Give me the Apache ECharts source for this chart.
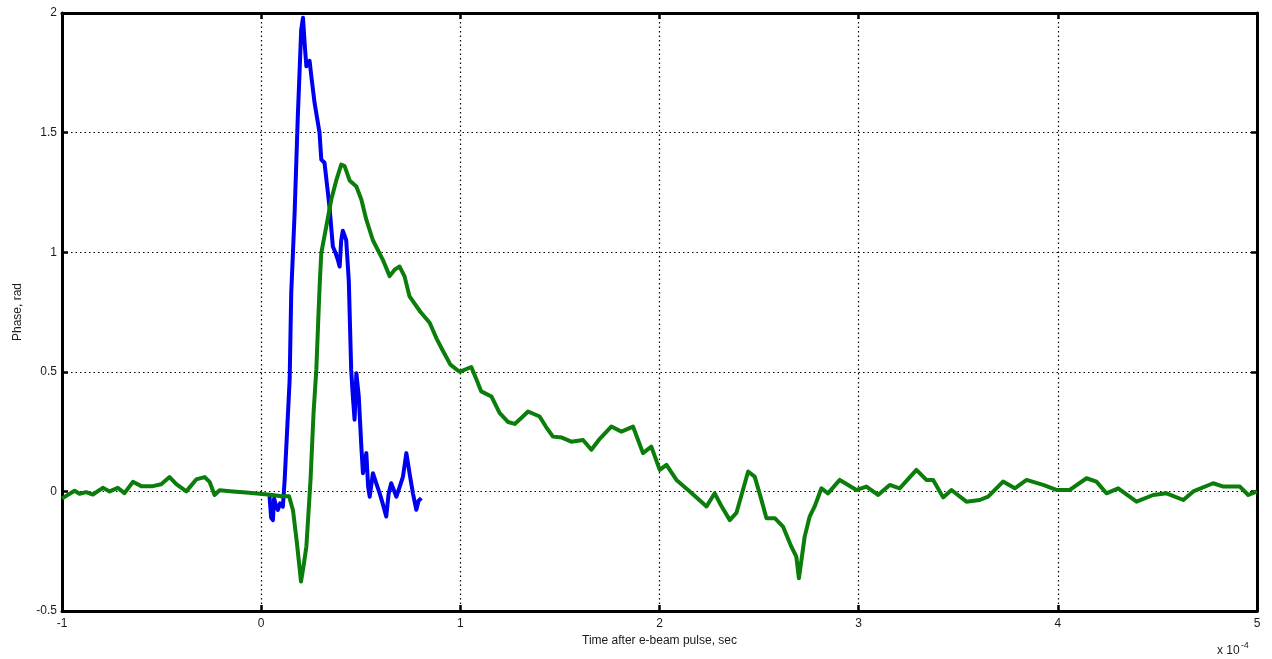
<!DOCTYPE html>
<html>
<head>
<meta charset="utf-8">
<script src="https://cdn.jsdelivr.net/npm/echarts@6/dist/echarts.min.js"></script>
<style>
html,body{margin:0;padding:0;background:#fff;}
#chart{width:1272px;height:659px;}
</style>
</head>
<body>
<div id="chart"></div>
<script>
// Time values in units of 1e-4 s
const greenX = [-1.00,-0.985,-0.937,-0.912,-0.879,-0.845,-0.795,-0.761,-0.72,-0.686,-0.644,-0.602,-0.544,-0.502,-0.46,-0.426,-0.376,-0.326,-0.284,-0.259,-0.234,-0.209,-0.142,-0.075,-0.008,0.059,0.10,0.14,0.16,0.18,0.20,0.215,0.227,0.248,0.263,0.277,0.288,0.295,0.302,0.327,0.352,0.377,0.402,0.419,0.444,0.478,0.503,0.528,0.561,0.611,0.645,0.67,0.695,0.72,0.745,0.80,0.846,0.88,0.911,0.95,0.996,1.055,1.08,1.105,1.156,1.197,1.24,1.273,1.31,1.34,1.398,1.43,1.465,1.51,1.557,1.616,1.658,1.70,1.758,1.809,1.867,1.89,1.917,1.959,2.001,2.035,2.085,2.152,2.20,2.236,2.277,2.31,2.353,2.386,2.41,2.445,2.478,2.51,2.537,2.579,2.62,2.662,2.687,2.70,2.729,2.754,2.779,2.813,2.846,2.905,2.989,3.039,3.097,3.156,3.206,3.29,3.34,3.374,3.424,3.466,3.541,3.608,3.65,3.725,3.784,3.843,3.926,3.993,4.06,4.144,4.194,4.244,4.303,4.395,4.479,4.546,4.63,4.68,4.78,4.831,4.914,4.956,5.0];
const greenY = [-0.03,-0.022,0.003,-0.01,-0.003,-0.013,0.015,0.0,0.015,-0.007,0.04,0.022,0.022,0.03,0.06,0.03,0.0,0.05,0.06,0.04,-0.015,0.005,0.0,-0.005,-0.01,-0.015,-0.02,-0.02,-0.08,-0.22,-0.377,-0.30,-0.23,0.05,0.328,0.51,0.745,0.885,0.997,1.108,1.22,1.30,1.366,1.36,1.30,1.275,1.22,1.136,1.05,0.968,0.90,0.927,0.94,0.899,0.815,0.75,0.705,0.64,0.59,0.53,0.50,0.52,0.47,0.418,0.397,0.328,0.29,0.282,0.31,0.334,0.313,0.27,0.229,0.225,0.208,0.215,0.174,0.22,0.271,0.25,0.271,0.22,0.16,0.187,0.09,0.111,0.048,0.0,-0.036,-0.063,-0.008,-0.06,-0.12,-0.09,-0.02,0.083,0.062,-0.03,-0.112,-0.112,-0.147,-0.231,-0.273,-0.363,-0.189,-0.105,-0.063,0.013,-0.008,0.048,0.006,0.02,-0.015,0.027,0.013,0.09,0.048,0.048,-0.025,0.006,-0.043,-0.036,-0.022,0.041,0.013,0.048,0.027,0.006,0.006,0.055,0.041,-0.008,0.013,-0.043,-0.015,-0.008,-0.036,0.0,0.034,0.02,0.02,-0.015,0.0];

const blueX = [0.042,0.05,0.059,0.065,0.075,0.084,0.095,0.109,0.118,0.143,0.151,0.168,0.184,0.201,0.21,0.218,0.227,0.235,0.243,0.252,0.268,0.293,0.302,0.318,0.343,0.36,0.372,0.385,0.394,0.402,0.41,0.419,0.427,0.44,0.452,0.46,0.469,0.478,0.49,0.503,0.511,0.52,0.528,0.537,0.545,0.561,0.578,0.595,0.61,0.628,0.64,0.653,0.679,0.70,0.712,0.729,0.745,0.762,0.779,0.79,0.804];
const blueY = [-0.02,-0.11,-0.12,-0.03,-0.06,-0.077,-0.05,-0.064,0.048,0.467,0.83,1.165,1.568,1.93,1.98,1.876,1.777,1.77,1.80,1.735,1.625,1.50,1.387,1.374,1.19,1.024,1.0,0.968,0.94,1.05,1.09,1.094,1.05,0.88,0.508,0.40,0.30,0.494,0.397,0.187,0.076,0.12,0.16,0.02,-0.022,0.076,0.034,-0.008,-0.05,-0.105,-0.01,0.034,-0.022,0.03,0.062,0.16,0.076,-0.008,-0.077,-0.04,-0.028];

const xTicks = [-1,0,1,2,3,4,5];
const xTickLabels = ['-1','0','1','2','3','4','5'];
const yTicks = [-0.5,0,0.5,1,1.5,2];
const yTickLabels = ['-0.5','0','0.5','1','1.5','2'];

const toPairs = (xs, ys) => xs.map((x, i) => [x, ys[i]]);

const FONT = 'Liberation Sans, Arial, sans-serif';
const lineStyleAxis = {color:'#000', width:3};
const tickStyle = {show:true, inside:true, length:6, lineStyle:{color:'#000', width:2.5}};
const gridLine = {show:true, lineStyle:{color:'#000', width:1.2, type:[1.5,3]}};

const chart = echarts.init(document.getElementById('chart'), null, {renderer:'canvas'});
chart.setOption({
  animation:false,
  backgroundColor:'#fff',
  grid:{left:62, right:15, top:13, bottom:48, containLabel:false},
  xAxis:[{
    type:'value', min:-1, max:5, interval:1, position:'bottom',
    name:'Time after e-beam pulse, sec', nameLocation:'middle', nameGap:23,
    nameTextStyle:{fontFamily:FONT, fontSize:12, color:'#1a1a1a'},
    axisLine:{show:true, onZero:false, lineStyle:lineStyleAxis},
    axisTick:tickStyle,
    axisLabel:{margin:7, fontFamily:FONT, fontSize:12, color:'#1a1a1a',
      formatter:v => { const i = xTicks.indexOf(v); return i >= 0 ? xTickLabels[i] : ''; }},
    splitLine:gridLine
  },{
    type:'value', min:-1, max:5, interval:1, position:'top',
    axisLine:{show:true, onZero:false, lineStyle:lineStyleAxis},
    axisTick:tickStyle, axisLabel:{show:false}, splitLine:{show:false}
  }],
  yAxis:[{
    type:'value', min:-0.5, max:2, interval:0.5, position:'left',
    name:'Phase, rad', nameLocation:'middle', nameGap:38, nameRotate:90,
    nameTextStyle:{fontFamily:FONT, fontSize:12, color:'#1a1a1a'},
    axisLine:{show:true, onZero:false, lineStyle:lineStyleAxis},
    axisTick:tickStyle,
    axisLabel:{margin:5, fontFamily:FONT, fontSize:12, color:'#1a1a1a',
      formatter:v => { const i = yTicks.indexOf(v); return i >= 0 ? yTickLabels[i] : ''; }},
    splitLine:gridLine
  },{
    type:'value', min:-0.5, max:2, interval:0.5, position:'right',
    axisLine:{show:true, onZero:false, lineStyle:lineStyleAxis},
    axisTick:tickStyle, axisLabel:{show:false}, splitLine:{show:false}
  }],
  series:[{
    name:'blue', type:'line', data:toPairs(blueX, blueY), showSymbol:false,
    lineStyle:{color:'#0000f0', width:4, join:'round'}, itemStyle:{color:'#0000f0'}, z:3
  },{
    name:'green', type:'line', data:toPairs(greenX, greenY), showSymbol:false,
    lineStyle:{color:'#0b7d0b', width:4, join:'round'}, itemStyle:{color:'#0b7d0b'}, z:4
  }],
  graphic:[{
    type:'text', left:1217, top:641,
    style:{
      text:'x 10{s|-4}',
      fontFamily:FONT, fontSize:12, fill:'#1a1a1a',
      rich:{s:{fontSize:9, verticalAlign:'top', padding:[0,0,10,1], fontFamily:FONT, fill:'#1a1a1a'}}
    }
  }]
});
</script>
</body>
</html>
